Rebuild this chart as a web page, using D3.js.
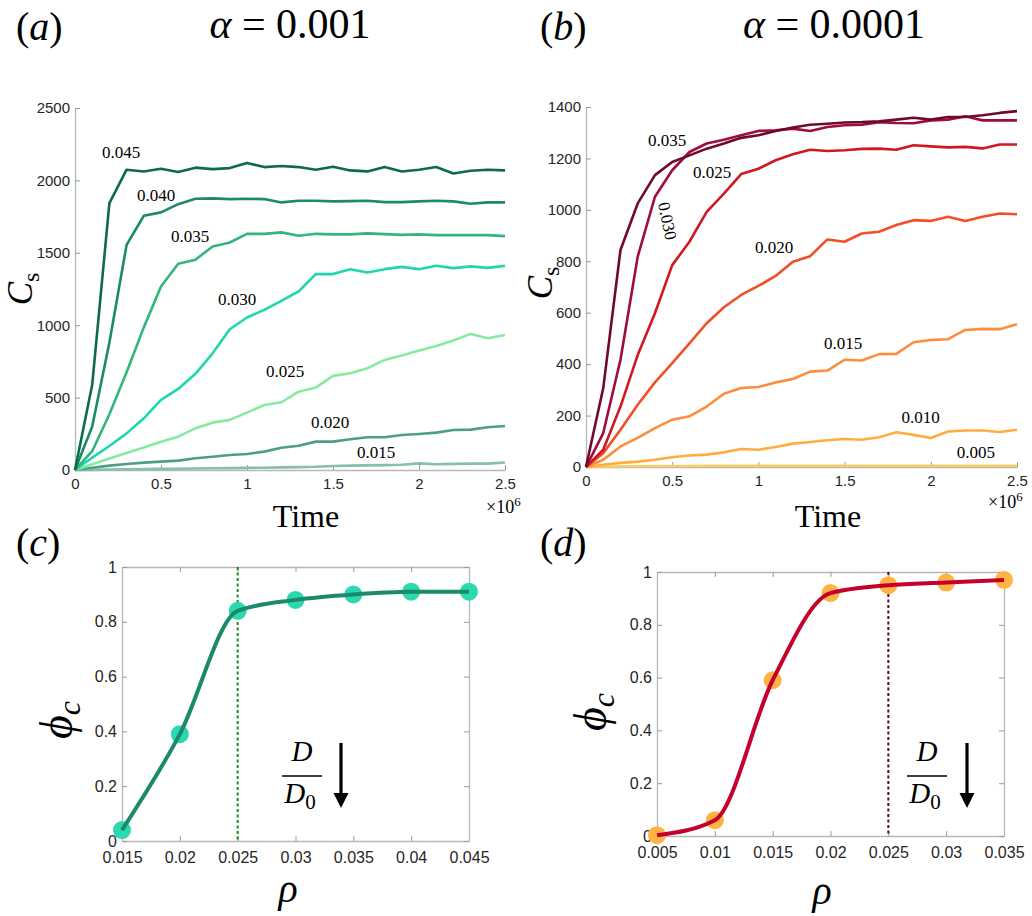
<!DOCTYPE html>
<html>
<head>
<meta charset="utf-8">
<script src="https://cdn.jsdelivr.net/npm/d3@7"></script>
<style>
  body { margin: 0; background: #fff; }
  .tick text { font-family: "Liberation Sans", Arial, sans-serif; fill: #262626; }
  .serif { font-family: "Liberation Serif", "Times New Roman", serif; fill: #000; }
</style>
</head>
<body>
<div id="chart"></div>
<script>
// Time samples in units of 10^6
const times = [0, 0.1, 0.2, 0.3, 0.4, 0.5, 0.6, 0.7, 0.8, 0.9, 1.0, 1.1, 1.2, 1.3, 1.4, 1.5, 1.6, 1.7, 1.8, 1.9, 2.0, 2.1, 2.2, 2.3, 2.4, 2.5]

// Panel (a), alpha = 0.001
const rhoA = ['0.045', '0.040', '0.035', '0.030', '0.025', '0.020', '0.015']
const colorsA = ['#0e6b47', '#1b8a6b', '#34b57c', '#1fd6ad', '#86eba0', '#4e9e87', '#85bfae']
const csA = [
  [0, 588, 1843, 2074, 2062, 2081, 2058, 2088, 2078, 2085, 2120, 2092, 2099, 2092, 2074, 2094, 2069, 2062, 2092, 2062, 2074, 2092, 2048, 2067, 2074, 2069],
  [0, 300, 880, 1555, 1756, 1779, 1836, 1873, 1876, 1871, 1873, 1871, 1848, 1859, 1859, 1855, 1857, 1859, 1850, 1850, 1855, 1859, 1855, 1839, 1848, 1848],
  [0, 130, 385, 675, 985, 1267, 1424, 1452, 1544, 1571, 1631, 1631, 1641, 1618, 1631, 1627, 1627, 1634, 1629, 1624, 1627, 1622, 1622, 1622, 1622, 1615],
  [0, 85, 166, 253, 357, 484, 560, 664, 806, 972, 1053, 1106, 1168, 1233, 1353, 1353, 1387, 1364, 1387, 1403, 1387, 1410, 1394, 1406, 1396, 1410],
  [0, 40, 80, 118, 155, 195, 230, 288, 327, 346, 396, 449, 468, 541, 569, 650, 668, 703, 760, 790, 825, 857, 894, 940, 910, 933],
  [0, 16, 30, 41, 51, 58, 65, 81, 92, 104, 111, 127, 154, 168, 196, 196, 212, 226, 226, 242, 249, 258, 276, 279, 295, 304],
  [0, 1, 3, 4, 6, 8, 9, 10, 12, 13, 15, 16, 18, 20, 22, 28, 30, 32, 34, 36, 46, 40, 42, 44, 44, 52]
]
// label anchor (time, Cs) for each curve label
const labelTA = [0.157, 0.36, 0.558, 0.831, 1.11, 1.372, 1.64]
const labelCA = [2155, 1860, 1577, 1139, 644, 292, 81]

// Panel (b), alpha = 0.0001
const rhoB = ['0.035', '0.030', '0.025', '0.020', '0.015', '0.010', '0.005']
const colorsB = ['#6e0a30', '#a00d38', '#d01820', '#f24e28', '#ff8c3a', '#ffad3f', '#f7cf63']
const csB = [
  [0, 307, 844, 1025, 1135, 1186, 1212, 1238, 1258, 1280, 1290, 1307, 1320, 1331, 1335, 1340, 1341, 1344, 1351, 1358, 1351, 1361, 1361, 1368, 1377, 1384],
  [0, 132, 417, 818, 1051, 1154, 1225, 1258, 1273, 1290, 1307, 1309, 1316, 1307, 1322, 1329, 1331, 1341, 1338, 1337, 1348, 1351, 1364, 1348, 1348, 1348],
  [0, 67, 235, 436, 598, 785, 876, 992, 1063, 1139, 1160, 1193, 1216, 1234, 1229, 1232, 1237, 1238, 1234, 1251, 1247, 1243, 1245, 1239, 1254, 1254],
  [0, 54, 145, 242, 329, 404, 481, 559, 621, 669, 704, 743, 798, 820, 885, 876, 908, 915, 941, 960, 957, 973, 957, 973, 986, 983],
  [0, 28, 80, 113, 151, 184, 197, 235, 285, 307, 311, 329, 342, 371, 375, 417, 414, 439, 440, 485, 494, 497, 533, 537, 536, 555],
  [0, 9, 16, 21, 28, 38, 45, 48, 57, 70, 67, 78, 91, 97, 104, 109, 106, 116, 135, 125, 113, 138, 142, 142, 136, 145],
  [0, 2, 3, 3, 4, 4, 4, 5, 5, 5, 5, 5, 5, 5, 5, 5, 5, 5, 5, 5, 5, 5, 5, 5, 5, 5]
]
const labelTB = [0.36, null, 0.62, 0.98, 1.38, 1.83, 2.15]
const labelCB = [1247, null, 1124, 831, 458, 171, 35]
const rotLabelB = { t: 0.44, c: 952, angle: 78 }  // the tilted 0.030 label

// Panels (c) and (d): phi_c versus rho
const rhoC = [0.015, 0.02, 0.025, 0.03, 0.035, 0.04, 0.045]
const phiC = [0.04, 0.39, 0.84, 0.88, 0.90, 0.91, 0.91]
const rhoD = [0.005, 0.01, 0.015, 0.02, 0.025, 0.03, 0.035]
const phiD = [0.003, 0.06, 0.59, 0.92, 0.95, 0.96, 0.97]

const ticksTime = [0, 0.5, 1, 1.5, 2, 2.5]
const ticksA = [0, 500, 1000, 1500, 2000, 2500]
const ticksB = [0, 200, 400, 600, 800, 1000, 1200, 1400]
const ticksPhi = [0, 0.2, 0.4, 0.6, 0.8, 1]

const svg = d3.select('#chart').append('svg')
  .attr('width', 1032).attr('height', 916)
  .style('background', '#fff')

function styleAxis(g, size) {
  g.selectAll('.domain').attr('stroke', '#b8b8b8').attr('stroke-width', 1.3)
  g.selectAll('.tick line').attr('stroke', '#9a9a9a')
  g.selectAll('.tick text').attr('font-size', size)
}

function fmt(d) { return d === 0 ? '0' : String(d) }

// ---------- time series panels ----------
function timePanel(opt) {
  const x = d3.scaleLinear().domain([0, 2.5]).range([opt.x0, opt.x1])
  const y = d3.scaleLinear().domain([0, opt.ymax]).range([opt.y1, opt.y0])

  svg.append('g').attr('transform', `translate(0,${opt.y1})`)
    .call(d3.axisBottom(x).tickValues(ticksTime).tickFormat(fmt).tickSizeInner(-5).tickSizeOuter(0).tickPadding(8))
    .call(g => styleAxis(g, 15))
  svg.append('g').attr('transform', `translate(${opt.x0},0)`)
    .call(d3.axisLeft(y).tickValues(opt.yticks).tickFormat(fmt).tickSizeInner(-5).tickSizeOuter(0).tickPadding(5))
    .call(g => styleAxis(g, 15))

  const line = d3.line().x((d, i) => x(times[i])).y(d => y(d))
  // draw lowest series first
  opt.series.map((s, i) => i).reverse().forEach(i => {
    svg.append('path').datum(opt.series[i])
      .attr('d', line).attr('fill', 'none')
      .attr('stroke', opt.colors[i]).attr('stroke-width', 2.6)
      .attr('stroke-linejoin', 'round')
  })

  opt.names.forEach((n, i) => {
    if (opt.lt[i] == null) return
    svg.append('text').attr('class', 'serif')
      .attr('x', x(opt.lt[i])).attr('y', y(opt.lc[i]))
      .attr('font-size', 17).text(n)
  })
  return { x, y }
}

const pa = timePanel({ x0: 75, x1: 505, y0: 108, y1: 470, ymax: 2500, yticks: ticksA,
  series: csA, colors: colorsA, names: rhoA, lt: labelTA, lc: labelCA })
const pb = timePanel({ x0: 586, x1: 1017, y0: 107, y1: 467, ymax: 1400, yticks: ticksB,
  series: csB, colors: colorsB, names: rhoB, lt: labelTB, lc: labelCB })

svg.append('text').attr('class', 'serif').attr('font-size', 17).attr('text-anchor', 'middle')
  .attr('transform', `translate(${pb.x(rotLabelB.t)},${pb.y(rotLabelB.c)}) rotate(${rotLabelB.angle})`)
  .text('0.030')

// ---------- phi vs rho panels ----------
function phiPanel(opt) {
  const x = d3.scaleLinear().domain(opt.xdom).range([opt.x0, opt.x1])
  const y = d3.scaleLinear().domain([0, 1]).range([opt.y1, opt.y0])
  const xt = opt.rho

  svg.append('g').attr('transform', `translate(0,${opt.y1})`)
    .call(d3.axisBottom(x).tickValues(xt).tickFormat(d => String(+d.toFixed(3))).tickSizeInner(-5).tickSizeOuter(0).tickPadding(11))
    .call(g => styleAxis(g, 16))
  svg.append('g').attr('transform', `translate(0,${opt.y0})`)
    .call(d3.axisTop(x).tickValues(xt).tickFormat('').tickSizeInner(-5).tickSizeOuter(0))
    .call(g => styleAxis(g, 16))
  svg.append('g').attr('transform', `translate(${opt.x0},0)`)
    .call(d3.axisLeft(y).tickValues(ticksPhi).tickFormat(fmt).tickSizeInner(-5).tickSizeOuter(0).tickPadding(5))
    .call(g => styleAxis(g, 16))
  svg.append('g').attr('transform', `translate(${opt.x1},0)`)
    .call(d3.axisRight(y).tickValues(ticksPhi).tickFormat('').tickSizeInner(-5).tickSizeOuter(0))
    .call(g => styleAxis(g, 16))

  // threshold line
  svg.append('line')
    .attr('x1', x(0.025)).attr('x2', x(0.025))
    .attr('y1', y(1)).attr('y2', y(0))
    .attr('stroke', opt.vcolor).attr('stroke-width', 2).attr('stroke-dasharray', '3,2.5')

  const curve = d3.line().x((d, i) => x(opt.rho[i])).y(d => y(d)).curve(d3.curveMonotoneX)

  svg.selectAll(null).data(opt.phi).join('circle')
    .attr('cx', (d, i) => x(opt.rho[i])).attr('cy', d => y(d))
    .attr('r', 9).attr('fill', opt.pcolor)

  svg.append('path').datum(opt.phi).attr('d', curve)
    .attr('fill', 'none').attr('stroke', opt.lcolor).attr('stroke-width', 4)

  // D / D0 annotation with arrow
  const ax = opt.fx
  const g = svg.append('g').attr('class', 'serif')
  g.append('text').attr('x', ax).attr('y', 761).attr('text-anchor', 'middle')
    .attr('font-size', 29).attr('font-style', 'italic').text('D')
  g.append('line').attr('x1', ax - 20).attr('x2', ax + 20).attr('y1', 776).attr('y2', 776)
    .attr('stroke', '#000').attr('stroke-width', 1.3)
  const den = g.append('text').attr('x', ax - 2).attr('y', 803).attr('text-anchor', 'middle').attr('font-size', 29)
  den.append('tspan').attr('font-style', 'italic').text('D')
  den.append('tspan').attr('font-size', 21).attr('dy', 6).text('0')

  const axx = ax + opt.arrowDx
  svg.append('line').attr('x1', axx).attr('x2', axx).attr('y1', 743).attr('y2', 795)
    .attr('stroke', '#000').attr('stroke-width', 3.2)
  svg.append('path')
    .attr('d', `M${axx - 7.5},793 L${axx + 7.5},793 L${axx},808 Z`).attr('fill', '#000')
  return { x, y }
}

phiPanel({ x0: 122, x1: 469, y0: 567, y1: 841, xdom: [0.015, 0.045], rho: rhoC, phi: phiC,
  lcolor: '#1b8a6b', pcolor: '#2cd8b0', vcolor: '#1a8c1a', fx: 302, arrowDx: 39 })
phiPanel({ x0: 657, x1: 1004, y0: 572, y1: 836, xdom: [0.005, 0.035], rho: rhoD, phi: phiD,
  lcolor: '#c4002b', pcolor: '#ffb347', vcolor: '#5c0a12', fx: 927, arrowDx: 40 })

// ---------- text: panel letters, titles, axis labels ----------
function serifText(x, y, size, parts, anchor, transform) {
  const t = svg.append('text').attr('class', 'serif').attr('font-size', size)
    .attr('text-anchor', anchor || 'start')
  if (transform) t.attr('transform', transform)
  else t.attr('x', x).attr('y', y)
  parts.forEach(p => {
    const s = t.append('tspan').text(p.t)
    if (p.i) s.attr('font-style', 'italic')
    if (p.s) s.attr('font-size', p.s)
    if (p.dy) s.attr('dy', p.dy)
  })
  return t
}

serifText(16, 40, 40, [{ t: '(' }, { t: 'a', i: 1 }, { t: ')' }])
serifText(540, 40, 40, [{ t: '(' }, { t: 'b', i: 1 }, { t: ')' }])
serifText(16, 556, 40, [{ t: '(' }, { t: 'c', i: 1 }, { t: ')' }])
serifText(540, 556, 40, [{ t: '(' }, { t: 'd', i: 1 }, { t: ')' }])

serifText(290, 38, 42, [{ t: 'α', i: 1 }, { t: ' = 0.001' }], 'middle')
serifText(834, 38, 42, [{ t: 'α', i: 1 }, { t: ' = 0.0001' }], 'middle')

// C_s labels
serifText(0, 0, 35, [{ t: 'C', i: 1 }, { t: 's', s: 24, dy: 7 }], 'middle', 'translate(32,289) rotate(-90)')
serifText(0, 0, 35, [{ t: 'C', i: 1 }, { t: 's', s: 24, dy: 7 }], 'middle', 'translate(552,283) rotate(-90)')

// Time labels and exponent
serifText(306, 527, 32, [{ t: 'Time' }], 'middle')
serifText(828, 527, 32, [{ t: 'Time' }], 'middle')
serifText(486, 513, 18, [{ t: '×10' }, { t: '6', s: 13, dy: -7 }])
serifText(988, 508, 18, [{ t: '×10' }, { t: '6', s: 13, dy: -7 }])

// phi_c labels
serifText(0, 0, 46, [{ t: 'ϕ', i: 1 }, { t: 'c', i: 1, s: 32, dy: 8 }], 'middle', 'translate(72,720) rotate(-90)')
serifText(0, 0, 46, [{ t: 'ϕ', i: 1 }, { t: 'c', i: 1, s: 32, dy: 8 }], 'middle', 'translate(606,712) rotate(-90)')

// rho labels
serifText(288, 902, 40, [{ t: 'ρ', i: 1 }], 'middle')
serifText(822, 904, 40, [{ t: 'ρ', i: 1 }], 'middle')
</script>
</body>
</html>
